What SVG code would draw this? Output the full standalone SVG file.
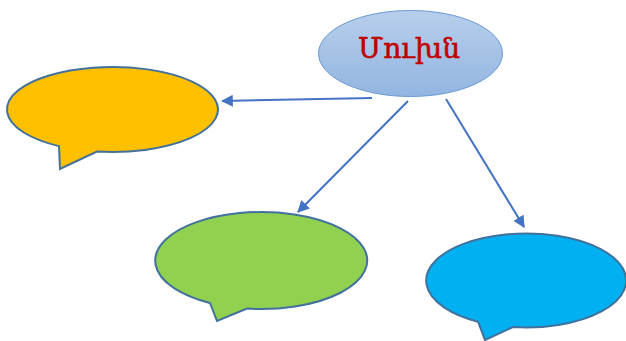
<svg xmlns="http://www.w3.org/2000/svg" width="626" height="341" viewBox="0 0 626 341">
  <defs>
    <linearGradient id="topGrad" x1="0" y1="0" x2="0" y2="1">
      <stop offset="0" stop-color="#B7CFEB"/>
      <stop offset="1" stop-color="#93B5E1"/>
    </linearGradient>
    <marker id="arrow" viewBox="0 0 10 10" refX="9" refY="5" markerWidth="6" markerHeight="6" orient="auto" markerUnits="strokeWidth">
      <path d="M0,0 L10,5 L0,10 Z" fill="#4472C4"/>
    </marker>
  </defs>
  <style>
    .bubble { stroke: #41719C; stroke-width: 2; stroke-linejoin: miter; }
    .conn { stroke: #4472C4; stroke-width: 2; fill: none; marker-end: url(#arrow); }
    .title { font-family: "DejaVu Serif", "Liberation Serif", serif; font-size: 28px; fill: #C00000; stroke: #C00000; stroke-width: 0.6; text-anchor: middle; }
  </style>
  <rect width="626" height="341" fill="#FFFFFF"/>
  <g id="connectors">
    <line class="conn" x1="372" y1="98" x2="222" y2="101"/>
    <line class="conn" x1="408" y1="101" x2="298" y2="212"/>
    <line class="conn" x1="446" y1="99" x2="524" y2="227"/>
  </g>
  <g id="node-main">
    <ellipse cx="410.5" cy="53.5" rx="92" ry="43" fill="url(#topGrad)" stroke="#6A9AD3" stroke-width="1"/>
    <text class="title" x="409" y="58">Մուխն</text>
  </g>
  <g id="node-orange">
    <path class="bubble" fill="#FFC000" d="M 97 151.5 A 105.5 42.5 0 1 0 59 146.1 L 60 169 Z"/>
  </g>
  <g id="node-green">
    <path class="bubble" fill="#92D050" d="M 247 308.6 A 106 48.5 0 1 0 210 303 L 217 321 Z"/>
  </g>
  <g id="node-blue">
    <path class="bubble" fill="#00B0F0" d="M 513 327.1 A 100 47 0 1 0 478 321.7 L 485 340 Z"/>
  </g>
</svg>
